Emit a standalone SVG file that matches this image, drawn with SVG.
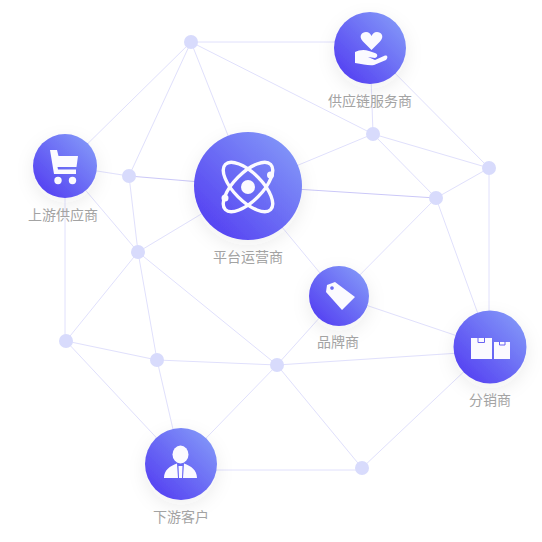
<svg xmlns="http://www.w3.org/2000/svg" width="542" height="542" viewBox="0 0 542 542">
<style>
.l{stroke:#e0e0fc;stroke-width:1;fill:none}
.m{stroke:#cbc8f8}
.d{fill:#d8dbfc}
.c{fill:url(#g);filter:url(#s)}
.i{fill:#fbfaff}
.t{font-family:"Noto Sans CJK SC","Noto Sans",sans-serif;font-size:14px;fill:#a3a3a3;text-anchor:middle}
</style>
<defs>
<linearGradient id="g" x1="0.15" y1="0.85" x2="0.9" y2="0.1"><stop offset="0" stop-color="#5746f2"/><stop offset="1" stop-color="#8296f8"/></linearGradient>
<filter id="s" x="-40%" y="-40%" width="180%" height="190%"><feDropShadow dx="0" dy="6" stdDeviation="9" flood-color="#444" flood-opacity="0.08"/></filter>
</defs>
<rect width="542" height="542" fill="#fff"/>
<g id="connectors">
<path class="l" d="M191 42H370M191 42L373 134M191 42L248 186M191 42L129 176M191 42L65 166M370 48L373 134M370 48L489 168M373 134L248 186M373 134L489 168M373 134L436 198M489 168L436 198M489 168V347M436 198L339 296M436 198L490 347M129 176L65 166M129 176L138 252M65 166L138 252M248 186L138 252M138 252L66 341M138 252L157 360M138 252L277 365M65 166V341M66 341L157 360M66 341L181 464M157 360L277 365M157 360L181 464M248 186L339 296M339 296L277 365M339 296L490 347M277 365L490 351M277 365L362 468M277 365L181 464M181 470H362M362 468L490 347"/>
<path class="l m" d="M129 176L248 186M248 186L436 198"/>
</g>
<g id="dots">
<circle class="d" cx="191" cy="42" r="7"/><circle class="d" cx="373" cy="134" r="7"/><circle class="d" cx="489" cy="168" r="7"/><circle class="d" cx="436" cy="198" r="7"/><circle class="d" cx="129" cy="176" r="7"/><circle class="d" cx="138" cy="252" r="7"/><circle class="d" cx="66" cy="341" r="7"/><circle class="d" cx="157" cy="360" r="7"/><circle class="d" cx="277" cy="365" r="7"/><circle class="d" cx="362" cy="468" r="7"/>
</g>
<g id="platform">
<circle class="c" cx="248" cy="186" r="54"/>
<g fill="none" stroke="#fbfaff" stroke-width="3.400">
<ellipse cx="248" cy="187" rx="32" ry="14" transform="rotate(45 248 187)"/>
<ellipse cx="248" cy="187" rx="32" ry="14" transform="rotate(-45 248 187)"/>
</g>
<circle class="i" cx="248" cy="187" r="7"/><circle class="i" cx="270.500" cy="175" r="3.500"/><circle class="i" cx="225" cy="198" r="3.500"/>
<text class="t" x="248" y="262">平台运营商</text>
</g>
<g id="supply">
<circle class="c" cx="370" cy="48" r="36"/>
<path class="i" d="M371.500 50L363 41.500C358 36 362 32 366 32C369 32 370.500 34 371.500 36C372.500 34 374 32 377 32C381 32 385 36 380 41.500Z"/>
<path class="i" d="M355 52C359 50 364 49 369 51L375 53C378 54 378 57 375 58L368 57L375 60L385 55.500C388 55 388 58 386 60L374 65C369 66 363 64 355 63Z"/>
<text class="t" x="370" y="106">供应链服务商</text>
</g>
<g id="upstream">
<circle class="c" cx="65" cy="166" r="32"/>
<path class="i" d="M50 150H57L58.500 156H78L76.500 167H57.500L58 169.500H76V174H54Z"/>
<circle class="i" cx="58" cy="180.500" r="3.700"/><circle class="i" cx="72.500" cy="180.500" r="3.700"/>
<text class="t" x="63" y="220">上游供应商</text>
</g>
<g id="brand">
<circle class="c" cx="339" cy="296" r="30"/>
<path class="i" fill-rule="evenodd" d="M326 292L327 285L335 282L355 297L342 310ZM332 286.200a1.800 1.800 0 1 0 .01 0Z"/>
<text class="t" x="338" y="347">品牌商</text>
</g>
<g id="distributor">
<circle class="c" cx="490" cy="347" r="36.500"/>
<rect class="i" x="471" y="338" width="21" height="21"/>
<rect class="i" x="494" y="342" width="16" height="17"/>
<path d="M478 337.500V342.500H484.500V337.500M499.500 341.500V345H505V341.500" fill="none" stroke="#6a63f3"/>
<text class="t" x="490" y="405">分销商</text>
</g>
<g id="customer">
<circle class="c" cx="181" cy="464" r="36"/>
<ellipse class="i" cx="180.500" cy="454.500" rx="8" ry="9"/>
<path class="i" d="M164 478C164 470 170 466 177 463.500L178 478ZM197 478C197 470 191 466 184 463.500L183 478ZM178.500 466H182.500L182 478H179Z"/>
<text class="t" x="181" y="522">下游客户</text>
</g>
</svg>
